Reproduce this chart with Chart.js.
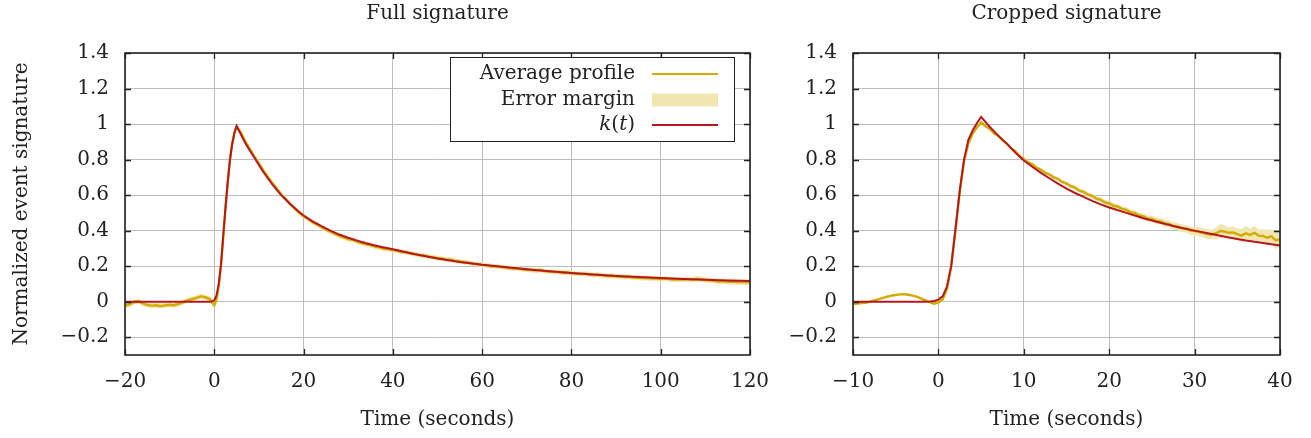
<!DOCTYPE html>
<html>
<head>
<meta charset="utf-8">
<script src="https://cdn.jsdelivr.net/npm/chart.js@4.4.1/dist/chart.umd.min.js"></script>
<style>
  html, body { margin: 0; padding: 0; background: #fff; }
  #wrap { position: relative; width: 1311px; height: 438px; }
  #left { position: absolute; left: 0; top: 0; }
  #right { position: absolute; left: 780px; top: 0; }
</style>
</head>
<body>
<div id="wrap">
  <canvas id="left" width="780" height="438"></canvas>
  <canvas id="right" width="531" height="438"></canvas>
</div>
<script>
// --- Full signature (left panel) ---
const leftTime = [
  -20,-19,-18,-17,-16,-15,-14,-13,-12,-11,-10,-9,-8,-7,-6,-5,-4,-3,-2,-1,
  0,0.5,1,1.5,2,2.5,3,3.5,4,4.5,5,
  6,7,8,9,10,11,12,13,14,15,16,17,18,19,20,
  21,22,23,24,25,26,27,28,29,30,31,32,33,34,35,36,37,38,39,40,
  41,42,43,44,45,46,47,48,49,50,51,52,53,54,55,56,57,58,59,60,
  61,62,63,64,65,66,67,68,69,70,71,72,73,74,75,76,77,78,79,80,
  81,82,83,84,85,86,87,88,89,90,91,92,93,94,95,96,97,98,99,100,
  101,102,103,104,105,106,107,108,109,110,111,112,113,114,115,116,117,118,119,120
];
const leftAvg = [
  -0.022,-0.015,-0.003,0.002,-0.010,-0.018,-0.022,-0.020,-0.025,-0.021,-0.017,-0.020,-0.012,-0.004,0.008,0.014,0.022,0.030,0.025,0.015,
  -0.020,0.010,0.090,0.200,0.360,0.520,0.670,0.800,0.890,0.950,0.985,
  0.950,0.900,0.858,0.815,0.778,0.738,0.702,0.668,0.637,0.602,0.578,0.550,0.525,0.502,0.482,
  0.466,0.448,0.435,0.420,0.405,0.394,0.383,0.370,0.362,0.352,0.348,0.338,0.330,0.325,0.318,0.310,0.306,0.298,0.296,0.290,
  0.287,0.280,0.278,0.272,0.268,0.262,0.260,0.254,0.250,0.245,0.243,0.237,0.236,0.230,0.226,0.222,0.220,0.214,0.212,0.206,
  0.205,0.200,0.200,0.196,0.194,0.190,0.186,0.188,0.182,0.180,0.178,0.175,0.178,0.172,0.170,0.168,0.167,0.163,0.164,0.160,
  0.158,0.156,0.158,0.153,0.150,0.152,0.148,0.145,0.146,0.143,0.141,0.139,0.140,0.136,0.135,0.133,0.134,0.130,0.131,0.128,
  0.130,0.127,0.125,0.126,0.125,0.127,0.124,0.128,0.126,0.122,0.120,0.118,0.114,0.116,0.112,0.113,0.110,0.112,0.109,0.110
];
const leftMargin = [
  0.014,0.015,0.014,0.013,0.014,0.015,0.014,0.014,0.015,0.014,0.013,0.014,0.015,0.014,0.014,0.015,0.014,0.015,0.014,0.015,
  0.016,0.017,0.018,0.018,0.019,0.018,0.018,0.017,0.017,0.016,0.017,
  0.016,0.015,0.015,0.014,0.015,0.014,0.014,0.013,0.014,0.014,0.013,0.014,0.013,0.014,0.013,
  0.013,0.014,0.013,0.013,0.014,0.013,0.013,0.014,0.013,0.013,0.014,0.013,0.013,0.013,0.014,0.013,0.013,0.014,0.013,0.013,
  0.013,0.013,0.014,0.013,0.013,0.014,0.013,0.013,0.013,0.014,0.013,0.013,0.014,0.013,0.013,0.013,0.014,0.013,0.013,0.014,
  0.013,0.014,0.013,0.013,0.014,0.013,0.013,0.014,0.013,0.013,0.014,0.013,0.014,0.013,0.013,0.014,0.013,0.014,0.013,0.014,
  0.014,0.013,0.014,0.014,0.013,0.014,0.014,0.013,0.014,0.014,0.015,0.014,0.014,0.015,0.014,0.014,0.015,0.014,0.015,0.014,
  0.015,0.014,0.015,0.015,0.014,0.015,0.015,0.016,0.015,0.015,0.016,0.015,0.016,0.016,0.015,0.016,0.016,0.015,0.016,0.016
];
const leftKTime = [
  -20,-1,-0.5,
  0,0.5,1,1.5,2,2.5,3,3.5,4,4.5,5,
  6,7,8,9,10,11,12,13,14,15,16,17,18,19,20,
  22,24,26,28,30,32,34,36,38,40,
  45,50,55,60,65,70,75,80,85,90,95,100,105,110,115,120
];
const leftK = [
  0,0,0.002,
  0.008,0.035,0.100,0.210,0.370,0.530,0.670,0.795,0.885,0.950,0.990,
  0.940,0.890,0.850,0.810,0.770,0.730,0.695,0.660,0.630,0.600,0.575,0.550,0.527,0.505,0.485,
  0.452,0.425,0.400,0.378,0.360,0.344,0.329,0.316,0.305,0.295,
  0.267,0.243,0.224,0.208,0.195,0.183,0.172,0.162,0.153,0.145,0.139,0.133,0.128,0.124,0.120,0.117
];
const leftXTicks = [-20, 0, 20, 40, 60, 80, 100, 120];

// --- Cropped signature (right panel) ---
const rightTime = [
  -10,-9.5,-9,-8.5,-8,-7.5,-7,-6.5,-6,-5.5,-5,-4.5,-4,-3.5,-3,-2.5,-2,-1.5,-1,-0.5,
  0,0.5,1,1.5,2,2.5,3,3.5,4,4.5,
  5,5.5,6,6.5,7,7.5,8,8.5,9,9.5,
  10,10.5,11,11.5,12,12.5,13,13.5,14,14.5,
  15,15.5,16,16.5,17,17.5,18,18.5,19,19.5,
  20,20.5,21,21.5,22,22.5,23,23.5,24,24.5,
  25,25.5,26,26.5,27,27.5,28,28.5,29,29.5,
  30,30.5,31,31.5,32,32.5,33,33.5,34,34.5,
  35,35.5,36,36.5,37,37.5,38,38.5,39,39.5,
  40
];
const rightAvg = [
  -0.012,-0.010,-0.008,-0.006,0.000,0.008,0.014,0.022,0.028,0.034,0.038,0.041,0.042,0.039,0.034,0.027,0.017,0.007,-0.003,-0.011,
  -0.004,0.012,0.070,0.200,0.400,0.620,0.790,0.890,0.945,0.980,
  1.010,0.988,0.974,0.948,0.934,0.908,0.891,0.864,0.847,0.820,
  0.803,0.785,0.774,0.754,0.743,0.726,0.716,0.700,0.691,0.674,
  0.665,0.650,0.642,0.625,0.618,0.603,0.596,0.580,0.574,0.559,
  0.553,0.540,0.535,0.522,0.517,0.503,0.499,0.485,0.480,0.469,
  0.466,0.455,0.452,0.441,0.438,0.426,0.423,0.413,0.411,0.400,
  0.397,0.393,0.388,0.380,0.378,0.385,0.398,0.395,0.388,0.390,
  0.380,0.372,0.385,0.376,0.388,0.372,0.370,0.360,0.368,0.345,
  0.352
];
const rightMargin = [
  0.006,0.006,0.005,0.006,0.006,0.005,0.006,0.006,0.005,0.006,0.006,0.005,0.006,0.006,0.005,0.006,0.006,0.005,0.006,0.007,
  0.008,0.008,0.009,0.010,0.010,0.010,0.009,0.009,0.008,0.008,
  0.008,0.008,0.008,0.009,0.008,0.008,0.009,0.008,0.009,0.009,
  0.009,0.010,0.009,0.010,0.010,0.010,0.011,0.010,0.011,0.011,
  0.011,0.012,0.011,0.012,0.012,0.013,0.012,0.013,0.013,0.014,
  0.014,0.015,0.014,0.016,0.015,0.016,0.017,0.016,0.018,0.017,
  0.018,0.019,0.018,0.020,0.019,0.021,0.020,0.022,0.021,0.023,
  0.024,0.026,0.025,0.028,0.027,0.032,0.040,0.036,0.030,0.034,
  0.032,0.036,0.042,0.035,0.040,0.034,0.038,0.045,0.040,0.048,
  0.042
];
const rightKTime = [
  -10,-1.5,-1,-0.5,
  0,0.5,1,1.5,2,2.5,3,3.5,4,4.5,5,
  6,7,8,9,10,11,12,13,14,15,16,17,18,19,20,
  22,24,26,28,30,32,34,36,38,40
];
const rightK = [
  0,0,0.001,0.004,
  0.012,0.030,0.085,0.200,0.410,0.625,0.800,0.910,0.962,1.005,1.040,
  0.985,0.935,0.890,0.840,0.795,0.760,0.725,0.695,0.665,0.637,0.612,0.590,0.568,0.548,0.530,
  0.500,0.470,0.444,0.421,0.400,0.381,0.362,0.345,0.331,0.317
];
const rightXTicks = [-10, 0, 10, 20, 30, 40];

const yTicks = [-0.2, 0, 0.2, 0.4, 0.6, 0.8, 1, 1.2, 1.4];
const legendLabels = ["Average profile", "Error margin", "k(t)"];

const AVG_COLOR = "#d2ab00";
const BAND_COLOR = "#f0e6b2";
const K_COLOR = "#b5171f";
const GRID_COLOR = "#bdbdbd";
const TEXT_COLOR = "#222";
const FONT = "'DejaVu Serif', serif";

Chart.defaults.font.family = FONT;
Chart.defaults.font.size = 20;
Chart.defaults.color = TEXT_COLOR;

const fmtTick = (v) => (v < 0 ? "\u2212" + Math.abs(v) : String(v));
const pts = (xs, ys) => xs.map((x, i) => ({ x, y: ys[i] }));

// panel title centred over the plot area
const titlePlugin = {
  id: "panelTitle",
  afterDraw(chart, args, opts) {
    const { ctx, chartArea: a } = chart;
    ctx.save();
    ctx.font = "20px " + FONT;
    ctx.fillStyle = TEXT_COLOR;
    ctx.textAlign = "center";
    ctx.textBaseline = "middle";
    ctx.fillText(opts.text, (a.left + a.right) / 2, 14);
    ctx.restore();
  }
};

// frame + inward tick marks on all four sides
const framePlugin = {
  id: "frame",
  afterDatasetsDraw(chart) {
    const { ctx, chartArea: a, scales: { x, y } } = chart;
    ctx.save();
    ctx.strokeStyle = "#222";
    ctx.lineWidth = 1.3;
    ctx.beginPath();
    x.ticks.forEach((t) => {
      const px = Math.round(x.getPixelForValue(t.value)) + 0.5;
      ctx.moveTo(px, a.bottom); ctx.lineTo(px, a.bottom - 6);
      ctx.moveTo(px, a.top); ctx.lineTo(px, a.top + 6);
    });
    y.ticks.forEach((t) => {
      const py = Math.round(y.getPixelForValue(t.value)) + 0.5;
      ctx.moveTo(a.left, py); ctx.lineTo(a.left + 6, py);
      ctx.moveTo(a.right, py); ctx.lineTo(a.right - 6, py);
    });
    ctx.stroke();
    ctx.lineWidth = 1.6;
    ctx.strokeRect(a.left, a.top, a.width, a.height);
    ctx.restore();
  }
};

// boxed legend, text right-aligned with the sample to its right
const legendPlugin = {
  id: "boxLegend",
  afterDraw(chart, args, opts) {
    if (!opts || !opts.show) return;
    const { ctx } = chart;
    const bx = 450.5, by = 57.5, bw = 284, bh = 84;
    ctx.save();
    ctx.fillStyle = "#fff";
    ctx.fillRect(bx, by, bw, bh);
    ctx.strokeStyle = "#222";
    ctx.lineWidth = 1;
    ctx.strokeRect(bx, by, bw, bh);
    const textRight = 635, sx0 = 652, sx1 = 718;
    const rows = [74, 100, 125];
    ctx.textBaseline = "middle";
    ctx.fillStyle = TEXT_COLOR;
    ctx.textAlign = "right";
    ctx.font = "20px " + FONT;
    ctx.fillText(legendLabels[0], textRight, rows[0]);
    ctx.fillText(legendLabels[1], textRight, rows[1]);
    // k(t) with italic letters
    const parts = [["k", true], ["(", false], ["t", true], [")", false]];
    ctx.textAlign = "left";
    let w = 0;
    parts.forEach(([s, it]) => { ctx.font = (it ? "italic " : "") + "20px " + FONT; w += ctx.measureText(s).width; });
    let cx = textRight - w;
    parts.forEach(([s, it]) => {
      ctx.font = (it ? "italic " : "") + "20px " + FONT;
      ctx.fillText(s, cx, rows[2]);
      cx += ctx.measureText(s).width;
    });
    // samples
    ctx.strokeStyle = AVG_COLOR; ctx.lineWidth = 2;
    ctx.beginPath(); ctx.moveTo(sx0, rows[0]); ctx.lineTo(sx1, rows[0]); ctx.stroke();
    ctx.fillStyle = BAND_COLOR;
    ctx.fillRect(sx0, rows[1] - 6.5, sx1 - sx0, 13);
    ctx.strokeStyle = K_COLOR; ctx.lineWidth = 2;
    ctx.beginPath(); ctx.moveTo(sx0, rows[2]); ctx.lineTo(sx1, rows[2]); ctx.stroke();
    ctx.restore();
  }
};

function makePanel(el, p) {
  const upper = p.avg.map((v, i) => v + p.margin[i]);
  const lower = p.avg.map((v, i) => v - p.margin[i]);
  return new Chart(el, {
    type: "line",
    data: {
      datasets: [
        { label: legendLabels[2], data: pts(p.kTime, p.k), borderColor: K_COLOR, borderWidth: 2,
          pointRadius: 0, tension: 0, fill: false, order: 0 },
        { label: legendLabels[0], data: pts(p.time, p.avg), borderColor: AVG_COLOR, borderWidth: 2.4,
          pointRadius: 0, tension: 0, fill: false, order: 1 },
        { label: legendLabels[1], data: pts(p.time, upper), borderWidth: 0, borderColor: "rgba(0,0,0,0)",
          backgroundColor: BAND_COLOR, pointRadius: 0, tension: 0, fill: "+1", order: 2 },
        { label: "lower", data: pts(p.time, lower), borderWidth: 0, borderColor: "rgba(0,0,0,0)",
          pointRadius: 0, tension: 0, fill: false, order: 3 }
      ]
    },
    options: {
      responsive: false,
      animation: false,
      events: [],
      layout: { padding: { left: 0, right: p.padRight, top: 53, bottom: 0 } },
      plugins: {
        legend: { display: false },
        tooltip: { enabled: false },
        title: { display: false },
        panelTitle: { text: p.title },
        boxLegend: { show: p.legend }
      },
      scales: {
        x: {
          type: "linear", min: p.xMin, max: p.xMax,
          afterBuildTicks: (s) => { s.ticks = p.xTicks.map((v) => ({ value: v })); },
          afterFit: (s) => { s.height = 83; s.paddingLeft = 0; s.paddingRight = 0; },
          ticks: { padding: 15, callback: fmtTick, maxRotation: 0, color: TEXT_COLOR },
          grid: { color: GRID_COLOR, lineWidth: 1, drawTicks: false },
          border: { display: false },
          title: { display: true, text: "Time (seconds)", color: TEXT_COLOR,
                   font: { size: 20 }, padding: { top: 0, bottom: 6 } }
        },
        y: {
          type: "linear", min: -0.3, max: 1.4,
          afterBuildTicks: (s) => { s.ticks = yTicks.map((v) => ({ value: v })); },
          afterFit: (s) => { s.width = p.yWidth; s.paddingTop = 0; s.paddingBottom = 0; },
          ticks: { padding: 16, callback: fmtTick, color: TEXT_COLOR },
          grid: { color: GRID_COLOR, lineWidth: 1, drawTicks: false },
          border: { display: false },
          title: { display: p.yTitle, text: "Normalized event signature", color: TEXT_COLOR,
                   font: { size: 20 }, padding: { top: 10, bottom: 0 } }
        }
      }
    },
    plugins: [framePlugin, legendPlugin, titlePlugin]
  });
}

makePanel(document.getElementById("left"), {
  title: "Full signature", time: leftTime, avg: leftAvg, margin: leftMargin,
  kTime: leftKTime, k: leftK, xMin: -20, xMax: 120, xTicks: leftXTicks,
  yWidth: 125, padRight: 30, yTitle: true, legend: true
});
makePanel(document.getElementById("right"), {
  title: "Cropped signature", time: rightTime, avg: rightAvg, margin: rightMargin,
  kTime: rightKTime, k: rightK, xMin: -10, xMax: 40, xTicks: rightXTicks,
  yWidth: 73, padRight: 31, yTitle: false, legend: false
});
</script>
</body>
</html>
